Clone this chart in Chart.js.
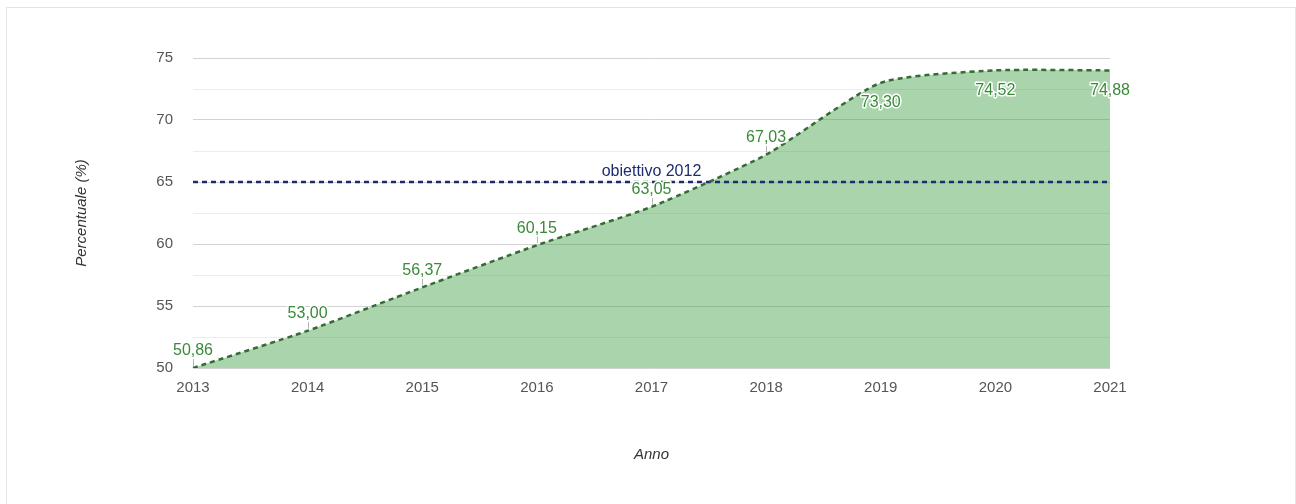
<!DOCTYPE html>
<html lang="it">
<head>
<meta charset="utf-8">
<title>Percentuale per anno</title>
<script src="https://cdn.jsdelivr.net/npm/chart.js"></script>
<style>
    html, body { margin: 0; padding: 0; background: #fff; overflow: hidden; }
    #cornice { position: absolute; left: 6px; top: 7px; width: 1288px; height: 520px; border: 1px solid #e4e4e4; }
    #chart-percentuale { position: absolute; left: 0; top: 0; }
</style>
</head>
<body>
<div id="cornice"></div>
<canvas id="chart-percentuale" width="1296" height="504"></canvas>
<script>
const anni = ['2013', '2014', '2015', '2016', '2017', '2018', '2019', '2020', '2021'];
// posizione dei punti
const valori = [50.0, 53.0, 56.5, 59.9, 63.0, 67.2, 73.0, 74.0, 74.0];
// etichette mostrate sopra/sotto i punti
const etichette = ['50,86', '53,00', '56,37', '60,15', '63,05', '67,03', '73,30', '74,52', '74,88'];
const obiettivo = [65, 65, 65, 65, 65, 65, 65, 65, 65];
const tickY = [50, 55, 60, 65, 70, 75];

const font = "'Liberation Sans', Arial, sans-serif";

const etichettePlugin = {
    id: 'etichette',
    afterDatasetsDraw(chart) {
        const ctx = chart.ctx;
        const punti = chart.getDatasetMeta(0).data;
        ctx.save();
        ctx.font = '16px ' + font;
        ctx.textAlign = 'center';
        ctx.textBaseline = 'middle';
        ctx.lineJoin = 'round';
        punti.forEach(function (p, i) {
            const sotto = valori[i] > 72;
            const y = sotto ? p.y + 20 : p.y - 17;
            if (!sotto) {
                ctx.strokeStyle = '#b5b5b5';
                ctx.lineWidth = 1;
                ctx.beginPath();
                ctx.moveTo(Math.round(p.x) + 0.5, p.y - 2);
                ctx.lineTo(Math.round(p.x) + 0.5, p.y - 9);
                ctx.stroke();
            }
            ctx.strokeStyle = '#fff';
            ctx.lineWidth = 3;
            ctx.strokeText(etichette[i], p.x, y);
            ctx.fillStyle = '#3a8a3a';
            ctx.fillText(etichette[i], p.x, y);
        });

        // testo della linea obiettivo
        const x = chart.scales.x.getPixelForValue(4);
        const y = chart.scales.y.getPixelForValue(65) - 10;
        ctx.strokeStyle = '#fff';
        ctx.lineWidth = 3;
        ctx.strokeText('obiettivo 2012', x, y);
        ctx.fillStyle = '#1e2b6e';
        ctx.fillText('obiettivo 2012', x, y);
        ctx.restore();
    }
};

function createChart(ctx) {
    return new Chart(ctx, {
        type: 'line',
        data: {
            labels: anni,
            datasets: [{
                label: 'Percentuale',
                data: valori,
                borderColor: '#356b35',
                borderWidth: 2.5,
                borderDash: [5, 4],
                backgroundColor: 'rgba(67, 160, 71, 0.45)',
                fill: 'start',
                tension: 0.2,
                pointRadius: 0,
            }, {
                label: 'obiettivo 2012',
                data: obiettivo,
                borderColor: '#1e2b6e',
                borderWidth: 2.5,
                borderDash: [5, 4],
                fill: false,
                pointRadius: 0,
            }]
        },
        options: {
            responsive: false,
            animation: false,
            devicePixelRatio: 1,
            layout: {
                padding: { left: 60, top: 58, right: 186, bottom: 30 }
            },
            plugins: {
                legend: { display: false },
                tooltip: { enabled: false },
                filler: { drawTime: 'beforeDatasetsDraw' }
            },
            scales: {
                x: {
                    grid: { display: false },
                    border: { display: false },
                    ticks: {
                        padding: 3,
                        color: '#555',
                        font: { family: font, size: 15 },
                        maxRotation: 0,
                    },
                    title: {
                        display: true,
                        text: 'Anno',
                        color: '#333',
                        font: { family: font, size: 15, style: 'italic' },
                        padding: { top: 0, bottom: 10 }
                    },
                    afterFit: function (scale) {
                        scale.height = 106;
                    }
                },
                y: {
                    min: 50,
                    max: 75,
                    border: { display: false },
                    grid: {
                        drawTicks: false,
                        color: function (c) {
                            return tickY.includes(c.tick.value) ? '#d2d2d2' : '#ececec';
                        }
                    },
                    ticks: {
                        stepSize: 2.5,
                        autoSkip: false,
                        padding: 20,
                        color: '#555',
                        font: { family: font, size: 15 },
                        callback: function (value) {
                            return tickY.includes(value) ? value : '';
                        }
                    },
                    title: {
                        display: true,
                        text: 'Percentuale (%)',
                        color: '#333',
                        font: { family: font, size: 15, style: 'italic' },
                        padding: { top: 13, bottom: 0 }
                    },
                    afterFit: function (scale) {
                        scale.width = 133;
                    }
                }
            }
        },
        plugins: [etichettePlugin]
    });
}

const chartPercentuale = createChart(document.getElementById('chart-percentuale'));
</script>
</body>
</html>
